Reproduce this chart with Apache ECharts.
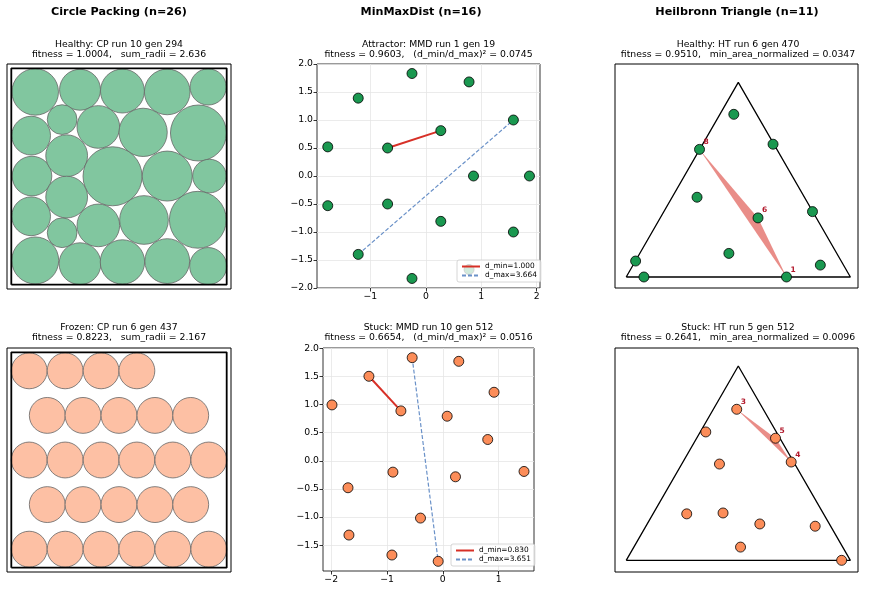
<!DOCTYPE html>
<html>
<head>
<meta charset="utf-8">
<script src="https://cdn.jsdelivr.net/npm/echarts@6/dist/echarts.min.js"></script>
<style>
  html, body { margin: 0; padding: 0; background: #fff; }
  #main { width: 869px; height: 592px; }
</style>
</head>
<body>
<div id="main"></div>
<script>
// ---- circle packing: [x, y, r] in the unit square ----
var cpHealthy = [
  [0.111, 0.891, 0.108], [0.319, 0.901, 0.095], [0.516, 0.895, 0.102], [0.724, 0.891, 0.106], [0.914, 0.914, 0.084],
  [0.092, 0.689, 0.090], [0.236, 0.763, 0.069], [0.404, 0.729, 0.099], [0.612, 0.704, 0.112], [0.869, 0.701, 0.130],
  [0.096, 0.502, 0.092], [0.257, 0.596, 0.097], [0.470, 0.501, 0.137], [0.724, 0.502, 0.116], [0.920, 0.502, 0.078],
  [0.092, 0.316, 0.090], [0.257, 0.405, 0.097], [0.236, 0.240, 0.069], [0.404, 0.274, 0.099], [0.616, 0.299, 0.113], [0.866, 0.300, 0.132],
  [0.111, 0.112, 0.109], [0.319, 0.097, 0.097], [0.516, 0.105, 0.103], [0.724, 0.109, 0.104], [0.914, 0.086, 0.086]
];
var cpFrozen = [
  [0.083, 0.914, 0.0833], [0.250, 0.914, 0.0833], [0.417, 0.914, 0.0833], [0.583, 0.914, 0.0833],
  [0.167, 0.707, 0.0833], [0.333, 0.707, 0.0833], [0.500, 0.707, 0.0833], [0.667, 0.707, 0.0833], [0.833, 0.707, 0.0833],
  [0.083, 0.500, 0.0833], [0.250, 0.500, 0.0833], [0.417, 0.500, 0.0833], [0.583, 0.500, 0.0833], [0.750, 0.500, 0.0833], [0.917, 0.500, 0.0833],
  [0.167, 0.293, 0.0833], [0.333, 0.293, 0.0833], [0.500, 0.293, 0.0833], [0.667, 0.293, 0.0833], [0.833, 0.293, 0.0833],
  [0.083, 0.086, 0.0833], [0.250, 0.086, 0.0833], [0.417, 0.086, 0.0833], [0.583, 0.086, 0.0833], [0.750, 0.086, 0.0833], [0.917, 0.086, 0.0833]
];
var unitSquare = [[0, 0], [1, 0], [1, 1], [0, 1], [0, 0]];

// ---- min/max distance points ----
var mmdAttractor = [
  [-0.25, 1.83], [0.78, 1.68], [-1.22, 1.39], [1.58, 1.0], [0.27, 0.81], [-1.77, 0.52], [-0.69, 0.50], [0.86, 0.0],
  [1.87, 0.0], [-1.77, -0.53], [-0.69, -0.50], [0.27, -0.81], [1.58, -1.0], [-1.22, -1.40], [-0.25, -1.83], [0.78, -1.67]
];
var mmdAttractorMin = [6, 4];   // d_min pair
var mmdAttractorMax = [13, 3];  // d_max pair
var mmdStuck = [
  [-0.549, 1.834], [0.286, 1.769], [-1.324, 1.503], [0.918, 1.219], [-1.986, 0.994], [-0.751, 0.888], [0.078, 0.793], [0.805, 0.379],
  [-0.894, -0.201], [0.227, -0.284], [1.455, -0.189], [-1.699, -0.479], [-0.400, -1.018], [-1.682, -1.320], [-0.912, -1.675], [-0.083, -1.787]
];
var mmdStuckMin = [2, 5];
var mmdStuckMax = [0, 15];
var ticksX1 = [-1, 0, 1, 2];
var ticksY1 = [-2, -1.5, -1, -0.5, 0, 0.5, 1, 1.5, 2];
var ticksX2 = [-2, -1, 0, 1];
var ticksY2 = [-1.5, -1, -0.5, 0, 0.5, 1, 1.5, 2];

// ---- heilbronn triangle points ----
var triVerts = [[0, 0], [1, 0], [0.5, 0.866], [0, 0]];
var htHealthy = [
  [0.480, 0.724], [0.655, 0.591], [0.327, 0.568], [0.316, 0.355], [0.588, 0.263], [0.831, 0.291],
  [0.458, 0.105], [0.042, 0.071], [0.866, 0.053], [0.079, 0.0], [0.715, 0.0]
];
var htHealthyLabels = [[2, '8'], [4, '6'], [10, '1']];
var htStuck = [
  [0.493, 0.673], [0.355, 0.572], [0.666, 0.544], [0.736, 0.438], [0.416, 0.429], [0.270, 0.207],
  [0.432, 0.211], [0.596, 0.162], [0.843, 0.152], [0.510, 0.059], [0.961, 0.0]
];
var htStuckLabels = [[0, '3'], [2, '5'], [3, '4']];

var FONT = '"DejaVu Sans", sans-serif';
var GREEN = '#1a9850', ORANGE = '#fc8d59', RED = '#d73027', BLUE = '#6a91c8';

function fmtY(v) { return (v < 0 ? '\u2212' : '') + Math.abs(v).toFixed(1); }
function fmtX(v) { return (v < 0 ? '\u2212' : '') + Math.abs(v); }

function hiddenAxis(idx, min, max) {
  return { type: 'value', gridIndex: idx, min: min, max: max, show: false };
}
function tickAxis(idx, min, max, ticks, fmt) {
  return {
    type: 'value', gridIndex: idx, min: min, max: max,
    axisLine: { show: false, onZero: false },
    axisTick: { show: true, length: 3.5, customValues: ticks, lineStyle: { color: '#000', width: 0.8 } },
    axisLabel: { customValues: ticks, formatter: fmt, fontSize: 9.3, fontFamily: FONT, color: '#000', margin: 4 },
    splitLine: { show: true, lineStyle: { color: '#e6e6e6', width: 0.8 } }
  };
}

function circleSeries(idx, data, fill) {
  return {
    type: 'custom', xAxisIndex: idx, yAxisIndex: idx, data: data, encode: { x: 0, y: 1 },
    renderItem: function (params, api) {
      var c = api.coord([api.value(0), api.value(1)]);
      var s = api.size([api.value(2), api.value(2)]);
      return { type: 'circle', shape: { cx: c[0], cy: c[1], r: s[0] },
        style: { fill: fill, stroke: '#666', lineWidth: 0.8 } };
    }
  };
}
function outlineSeries(idx, verts, width) {
  return { type: 'line', xAxisIndex: idx, yAxisIndex: idx, data: verts, symbol: 'none',
    lineStyle: { color: '#000', width: width }, z: 3, silent: true };
}
function pointSeries(idx, pts, color, labels) {
  var data = pts.map(function (p) { return { value: p }; });
  (labels || []).forEach(function (l) {
    data[l[0]].label = { show: true, formatter: l[1], position: [12, -2], align: 'center', verticalAlign: 'middle',
      fontSize: 7.5, fontWeight: 'bold', fontFamily: FONT, color: '#b2182b' };
  });
  return { type: 'scatter', xAxisIndex: idx, yAxisIndex: idx, data: data, symbolSize: 10, z: 5,
    itemStyle: { color: color, borderColor: '#000', borderWidth: 0.8, opacity: 1 } };
}
function pairSeries(idx, name, pts, pair, color, width, dashed) {
  return { type: 'line', name: name, xAxisIndex: idx, yAxisIndex: idx, symbol: 'none', z: 4,
    data: [pts[pair[0]], pts[pair[1]]],
    itemStyle: { color: color, opacity: 0 },
    lineStyle: { color: color, width: width, type: dashed ? [4, 2] : 'solid' } };
}
function triSeries(idx, pts, labels) {
  var v = labels.map(function (l) { return pts[l[0]]; });
  return { type: 'custom', xAxisIndex: idx, yAxisIndex: idx, z: 2,
    data: [[v[0][0], v[0][1], v[1][0], v[1][1], v[2][0], v[2][1]]],
    encode: { x: [0, 2, 4], y: [1, 3, 5] },
    renderItem: function (params, api) {
      var poly = [0, 2, 4].map(function (k) { return api.coord([api.value(k), api.value(k + 1)]); });
      return { type: 'polygon', shape: { points: poly }, style: { fill: 'rgba(215,48,39,0.55)' } };
    } };
}
function legendBox(left, top, names) {
  return { data: names, left: left, top: top, orient: 'vertical', selectedMode: false, z: 8,
    itemWidth: 18, itemHeight: 8, itemGap: 2, padding: [3, 4],
    backgroundColor: 'rgba(255,255,255,0.8)', borderColor: '#cccccc', borderWidth: 0.8, borderRadius: 2,
    textStyle: { fontSize: 7.4, fontFamily: FONT, color: '#000' } };
}
function txt(x, y, s, bold) {
  return { type: 'text', x: x, y: y, silent: true,
    style: { text: s, font: (bold ? 'bold 11.2px ' : '9.3px ') + FONT, fill: '#000',
      align: 'center', verticalAlign: 'middle', textAlign: 'center', textVerticalAlign: 'middle' } };
}

var chart = echarts.init(document.getElementById('main'));
var frame = { show: true, borderColor: '#000', borderWidth: 1, backgroundColor: 'transparent', containLabel: false };
var option = {
  animation: false,
  grid: [
    Object.assign({ left: 7, top: 64, width: 224, height: 225 }, frame),
    Object.assign({ left: 317, top: 64, width: 223, height: 224 }, frame, { borderWidth: 0.8 }),
    Object.assign({ left: 615, top: 64, width: 243, height: 224 }, frame),
    Object.assign({ left: 7, top: 348, width: 224, height: 224 }, frame),
    Object.assign({ left: 323, top: 348, width: 211, height: 223 }, frame, { borderWidth: 0.8 }),
    Object.assign({ left: 615, top: 348, width: 243, height: 224 }, frame)
  ],
  xAxis: [
    hiddenAxis(0, -0.02, 1.02),
    tickAxis(1, -1.964, 2.06, ticksX1, fmtX),
    hiddenAxis(2, -0.05, 1.034),
    hiddenAxis(3, -0.02, 1.02),
    tickAxis(4, -2.147, 1.634, ticksX2, fmtX),
    hiddenAxis(5, -0.05, 1.034)
  ],
  yAxis: [
    hiddenAxis(0, -0.02, 1.02),
    tickAxis(1, -2, 2, ticksY1, fmtY),
    hiddenAxis(2, -0.049, 0.948),
    hiddenAxis(3, -0.02, 1.02),
    tickAxis(4, -1.959, 2.006, ticksY2, fmtY),
    hiddenAxis(5, -0.052, 0.946)
  ],
  legend: [
    legendBox(457, 260, ['d_min=1.000', 'd_max=3.664']),
    legendBox(451, 544, ['d_min=0.830', 'd_max=3.651'])
  ],
  graphic: [
    txt(119, 12, 'Circle Packing (n=26)', true),
    txt(421, 12, 'MinMaxDist (n=16)', true),
    txt(737, 12, 'Heilbronn Triangle (n=11)', true),
    txt(119, 44.5, 'Healthy: CP run 10 gen 294'),
    txt(119, 54.5, 'fitness = 1.0004,   sum_radii = 2.636'),
    txt(428.5, 45, 'Attractor: MMD run 1 gen 19'),
    txt(428.5, 55, 'fitness = 0.9603,   (d_min/d_max)\u00b2 = 0.0745'),
    txt(738, 44.5, 'Healthy: HT run 6 gen 470'),
    txt(738, 54.5, 'fitness = 0.9510,   min_area_normalized = 0.0347'),
    txt(119, 327.5, 'Frozen: CP run 6 gen 437'),
    txt(119, 338, 'fitness = 0.8223,   sum_radii = 2.167'),
    txt(428.5, 327.5, 'Stuck: MMD run 10 gen 512'),
    txt(428.5, 338, 'fitness = 0.6654,   (d_min/d_max)\u00b2 = 0.0516'),
    txt(738, 327.5, 'Stuck: HT run 5 gen 512'),
    txt(738, 338, 'fitness = 0.2641,   min_area_normalized = 0.0096')
  ],
  series: [
    outlineSeries(0, unitSquare, 1.8),
    circleSeries(0, cpHealthy, '#81c69f'),
    pairSeries(1, 'd_min=1.000', mmdAttractor, mmdAttractorMin, RED, 2, false),
    pairSeries(1, 'd_max=3.664', mmdAttractor, mmdAttractorMax, BLUE, 1.2, true),
    pointSeries(1, mmdAttractor, GREEN),
    triSeries(2, htHealthy, htHealthyLabels),
    outlineSeries(2, triVerts, 1.3),
    pointSeries(2, htHealthy, GREEN, htHealthyLabels),
    outlineSeries(3, unitSquare, 1.8),
    circleSeries(3, cpFrozen, '#fdc0a4'),
    pairSeries(4, 'd_min=0.830', mmdStuck, mmdStuckMin, RED, 2, false),
    pairSeries(4, 'd_max=3.651', mmdStuck, mmdStuckMax, BLUE, 1.2, true),
    pointSeries(4, mmdStuck, ORANGE),
    triSeries(5, htStuck, htStuckLabels),
    outlineSeries(5, triVerts, 1.3),
    pointSeries(5, htStuck, ORANGE, htStuckLabels)
  ]
};
chart.setOption(option);
</script>
</body>
</html>
